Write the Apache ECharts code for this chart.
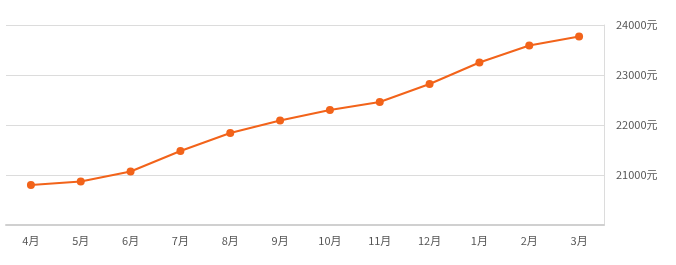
<!DOCTYPE html>
<html><head><meta charset="utf-8">
<script src="https://cdn.jsdelivr.net/npm/echarts@6/dist/echarts.min.js"></script>
<style>html,body{margin:0;padding:0;background:#fff}#c{width:676px;height:265px}</style>
</head><body><div id="c"></div>
<script>
var months = ['4月','5月','6月','7月','8月','9月','10月','11月','12月','1月','2月','3月'];
var prices = [20800, 20870, 21070, 21480, 21840, 22090, 22300, 22460, 22820, 23250, 23590, 23770];
var yMin = 20000, yMax = 24000, yStep = 1000;
var unit = '元';
var chart = echarts.init(document.getElementById('c'), null, {renderer:'canvas'});
chart.setOption({
  animation:false,
  grid:{left:6, right:72, top:25, bottom:40},
  xAxis:{type:'category', data:months, boundaryGap:true,
    axisLine:{lineStyle:{color:'#d0d0d0', width:2}},
    axisTick:{alignWithLabel:true, length:4, lineStyle:{color:'#d0d0d0'}},
    axisLabel:{color:'#555', fontSize:11, fontFamily:'Noto Sans CJK SC', margin:10}},
  yAxis:{type:'value', position:'right', min:yMin, max:yMax, interval:yStep,
    axisLine:{show:true, lineStyle:{color:'#dcdcdc', width:1}},
    axisTick:{show:false},
    splitLine:{lineStyle:{color:'#dcdcdc'}},
    axisLabel:{color:'#555', fontSize:11, fontFamily:'Noto Sans CJK SC', margin:12, verticalAlign:'middle',
      formatter:function(v){return v===yMin?'':v+unit;}}},
  series:[{type:'line', data:prices, symbol:'circle', symbolSize:8,
    lineStyle:{color:'#f2631a', width:2}, itemStyle:{color:'#f2631a'}}]
});
</script></body></html>
